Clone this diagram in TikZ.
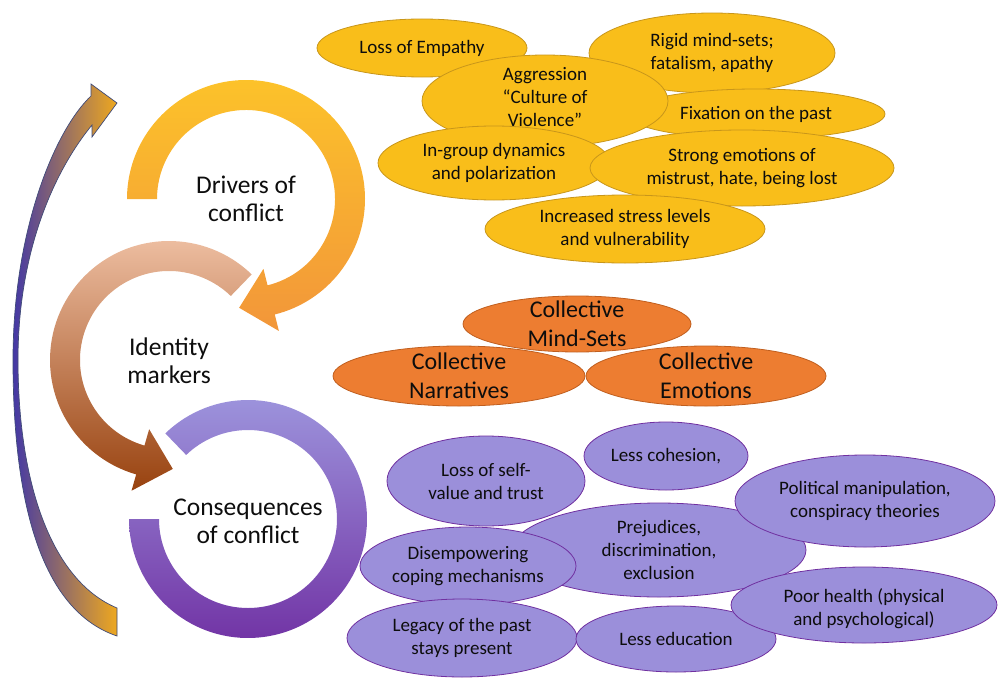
\documentclass[tikz,border=0pt]{standalone}
\usepackage{fontspec}
\setmainfont{Carlito}
\usetikzlibrary{calc}

\definecolor{yelfill}{HTML}{F9BE1A}
\definecolor{yeldraw}{HTML}{C8961A}
\definecolor{orgfill}{HTML}{ED7D31}
\definecolor{orgdraw}{HTML}{C05E1E}
\definecolor{purfill}{HTML}{9B8FDA}
\definecolor{purdraw}{HTML}{7030A0}
\definecolor{arrline}{HTML}{3F4A78}
\definecolor{drvtop}{HTML}{FCC22A}
\definecolor{drvmid}{HTML}{FDC63E}
\definecolor{drvbot}{HTML}{F2963A}
\definecolor{idmtop}{HTML}{F0C2A6}
\definecolor{idmmid}{HTML}{D06A22}
\definecolor{idmbot}{HTML}{98420F}
\definecolor{csqtop}{HTML}{9E97DE}
\definecolor{csqmid}{HTML}{9589D7}
\definecolor{csqbot}{HTML}{7030A3}
\definecolor{arrleft}{HTML}{4338A6}
\definecolor{arrmid}{HTML}{B24C22}
\definecolor{arrright}{HTML}{EEA81F}

\begin{document}
\begin{tikzpicture}[
            x=1pt,y=1pt,
            every node/.append style={text=black!95},
            bub/.style={line width=0.8pt},
            yel/.style={bub,fill=yelfill,draw=yeldraw},
            org/.style={bub,fill=orgfill,draw=orgdraw},
            pur/.style={bub,fill=purfill,draw=purdraw},
            txt/.style={align=center,font=\fontsize{19}{23}\selectfont},
            coll/.style={align=center,font=\fontsize{24}{29}\selectfont},
            ringtxt/.style={align=center,font=\fontsize{25.5}{28}\selectfont}
        ]
            \useasboundingbox (0,0) rectangle (998,-677);

            % cycle arrow on the left
            \shadedraw[left color=arrleft, middle color=arrmid, right color=arrright,
                draw=arrline, line width=0.7pt]
                (117,-636) .. controls (40,-610) and (13,-500) .. (13,-360)
                .. controls (13,-230) and (55,-130) .. (91,-96)
                -- (91,-84) -- (117,-103) -- (92,-137) -- (92,-125)
                .. controls (55,-170) and (18,-250) .. (18,-360)
                .. controls (18,-480) and (50,-580) .. (117,-608) -- cycle;

            \coordinate (drv) at (246,-199);
            \coordinate (idm) at (169,-360);
            \coordinate (csq) at (248,-519);

            % drivers ring
            \shade[top color=drvtop, middle color=drvmid, bottom color=drvbot]
                ($(drv)+(180:119)$) arc[start angle=180, end angle=-76, radius=119]
                -- ($(drv)+(-76:136)$) -- ($(drv)+(-93.6:109)$) -- ($(drv)+(-76:72)$)
                -- ($(drv)+(-76:89)$) arc[start angle=-76, end angle=180, radius=89] -- cycle;

            % identity ring
            \shade[top color=idmtop, middle color=idmmid, bottom color=idmbot]
                ($(idm)+(46:119)$) arc[start angle=46, end angle=254, radius=119]
                -- ($(idm)+(254:136)$) -- ($(idm)+(272:109)$) -- ($(idm)+(254:72)$)
                -- ($(idm)+(254:89)$) arc[start angle=254, end angle=46, radius=89] -- cycle;

            % consequences ring
            \shade[top color=csqtop, middle color=csqmid, bottom color=csqbot]
                ($(csq)+(134:119)$) arc[start angle=134, end angle=-180, radius=119]
                -- ($(csq)+(180:89)$) arc[start angle=-180, end angle=134, radius=89] -- cycle;

            \node[ringtxt] (drvt) at (drv) {Drivers of\\conflict};
            \node[ringtxt] (idmt) at ($(idm)+(0,-1)$) {Identity\\markers};
            \node[ringtxt] (csqt) at ($(csq)+(0,-2)$) {Consequences\\of conflict};

            % drivers
            \draw[yel] (422,-48) ellipse[x radius=105, y radius=29]
                node[txt] (emp) {Loss of Empathy};
            \draw[yel] (712,-53) ellipse[x radius=123, y radius=40]
                node[txt] (rig) {Rigid mind-sets;\\fatalism, apathy};
            \draw[yel] (756,-114) ellipse[x radius=129, y radius=25]
                node[txt] (fix) {Fixation on the past};
            \draw[yel] (545,-101) ellipse[x radius=123, y radius=46]
                node[txt,yshift=4] (agg) {Aggression\\“Culture of\\Violence”};
            \draw[yel] (494,-163) ellipse[x radius=116, y radius=37]
                node[txt] (ing) {In-group dynamics\\and polarization};
            \draw[yel] (742,-168) ellipse[x radius=152, y radius=38]
                node[txt] (emo) {Strong emotions of\\mistrust, hate, being lost};
            \draw[yel] (625,-229) ellipse[x radius=140, y radius=34]
                node[txt] (strs) {Increased stress levels\\and vulnerability};

            % identity markers
            \draw[org] (577,-324) ellipse[x radius=114, y radius=28]
                node[coll] (cms) {Collective\\Mind-Sets};
            \draw[org] (459,-376) ellipse[x radius=126, y radius=30]
                node[coll] (cna) {Collective\\Narratives};
            \draw[org] (706,-376) ellipse[x radius=120, y radius=30]
                node[coll] (cem) {Collective\\Emotions};

            % consequences
            \draw[pur] (659,-550) ellipse[x radius=147, y radius=47]
                node[txt] (pre) {Prejudices,\\discrimination,\\exclusion};
            \draw[pur] (486,-481) ellipse[x radius=99, y radius=45]
                node[txt] (lsv) {Loss of self-\\value and trust};
            \draw[pur] (666,-456) ellipse[x radius=82, y radius=34]
                node[txt] (coh) {Less cohesion,};
            \draw[pur] (865,-501) ellipse[x radius=130, y radius=46]
                node[txt] (pol) {Political manipulation,\\conspiracy theories};
            \draw[pur] (468,-566) ellipse[x radius=108, y radius=39]
                node[txt] (dis) {Disempowering\\coping mechanisms};
            \draw[pur] (462,-638) ellipse[x radius=115, y radius=39]
                node[txt] (leg) {Legacy of the past\\stays present};
            \draw[pur] (676,-639) ellipse[x radius=100, y radius=33]
                node[txt] (edu) {Less education};
            \draw[pur] (864,-605) ellipse[x radius=133, y radius=38]
                node[txt,yshift=-4] (hea) {Poor health (physical\\and psychological)};
        \end{tikzpicture}
\end{document}
